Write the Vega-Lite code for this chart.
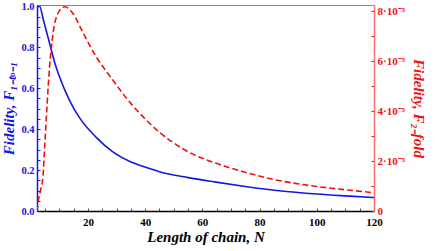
{
  "$schema": "https://vega.github.io/schema/vega-lite/v6.json",
  "autosize": {"type": "none"},
  "padding": {"left": 37, "top": 5, "right": 64, "bottom": 40},
  "width": 337,
  "height": 206,
  "config": {
    "view": {"stroke": "#888888", "strokeWidth": 1},
    "font": "Liberation Serif",
    "axis": {"grid": false, "labelFont": "Liberation Serif", "titleFont": "Liberation Serif", "labelFontWeight": "bold", "titleFontWeight": "bold", "titleFontStyle": "italic", "labelFontSize": 11, "titleFontSize": 15, "labelOverlap": false}
  },
  "datasets": {
    "blue": [
      {"N": 2.2, "F": 1.0}, {"N": 3.1, "F": 1.0}, {"N": 4.5, "F": 0.93}, {"N": 6.6, "F": 0.82},
      {"N": 8.3, "F": 0.73}, {"N": 10.1, "F": 0.655}, {"N": 13.6, "F": 0.54}, {"N": 17.1, "F": 0.455},
      {"N": 22.9, "F": 0.36}, {"N": 28.6, "F": 0.29}, {"N": 34.5, "F": 0.243}, {"N": 41.5, "F": 0.208},
      {"N": 45, "F": 0.192}, {"N": 55, "F": 0.163}, {"N": 64.8, "F": 0.141}, {"N": 75, "F": 0.12},
      {"N": 86.8, "F": 0.099}, {"N": 100, "F": 0.083}, {"N": 110, "F": 0.074}, {"N": 120, "F": 0.066}
    ],
    "red": [
      {"N": 2.2, "F": 0}, {"N": 2.7, "F": 0.44}, {"N": 3.5, "F": 0.85}, {"N": 4.3, "F": 1.4},
      {"N": 4.9, "F": 2.6}, {"N": 5.7, "F": 4.2}, {"N": 6.6, "F": 5.77}, {"N": 7.8, "F": 7.1},
      {"N": 9.5, "F": 7.9}, {"N": 11.9, "F": 8.17}, {"N": 14.8, "F": 7.9}, {"N": 18.2, "F": 7.15},
      {"N": 22.9, "F": 6.17}, {"N": 28.7, "F": 5.24}, {"N": 34.5, "F": 4.37}, {"N": 40.4, "F": 3.64},
      {"N": 45, "F": 3.15}, {"N": 50, "F": 2.72}, {"N": 55, "F": 2.37}, {"N": 64.8, "F": 1.91},
      {"N": 75, "F": 1.55}, {"N": 83.4, "F": 1.3}, {"N": 100, "F": 0.98}, {"N": 110, "F": 0.85},
      {"N": 120, "F": 0.73}
    ]
  },
  "encoding": {
    "x": {"field": "N", "type": "quantitative", "scale": {"domain": [2.2, 120], "nice": false, "zero": false},
      "axis": {"values": [5,10,15,20,25,30,35,40,45,50,55,60,65,70,75,80,85,90,95,100,105,110,115,120],
        "labelExpr": "datum.value % 20 === 0 ? format(datum.value, 'd') : ''", "labelFlush": false, "tickSize": -3, "labelPadding": 8, "domainColor": "#000000", "domainWidth": 1.5, "tickColor": "#555555", "labelColor": "#000000",
        "title": "Length of chain, N", "titleColor": "#000000", "titlePadding": 2, "labelFontSize": 11}}
  },
  "layer": [
    {
      "data": {"name": "blue"},
      "mark": {"type": "line", "color": "#1515e6", "strokeWidth": 1.6, "interpolate": "monotone", "clip": true},
      "encoding": {
        "y": {"field": "F", "type": "quantitative", "scale": {"domain": [0, 1.007], "nice": false},
          "axis": {"orient": "left", "values": [0,0.05,0.1,0.15,0.2,0.25,0.3,0.35,0.4,0.45,0.5,0.55,0.6,0.65,0.7,0.75,0.8,0.85,0.9,0.95,1.0],
            "labelExpr": "(round(datum.value*100) % 20 == 0) ? format(datum.value, '.1f') : ''", "tickSize": -3, "labelPadding": 6,
            "domainColor": "#1515e6", "domainWidth": 1.5, "tickColor": "#1515e6", "labelColor": "#1515e6", "labelFontSize": 10.5,
            "title": "Fidelity, F₁₋ₜₒ₋₁", "titleColor": "#1515e6", "titlePadding": 4}}
      }
    },
    {
      "data": {"name": "red"},
      "mark": {"type": "line", "color": "#ee1111", "strokeWidth": 1.6, "strokeDash": [6, 3], "interpolate": "monotone", "clip": true},
      "encoding": {
        "y": {"field": "F", "type": "quantitative", "scale": {"domain": [0, 8.24], "nice": false},
          "axis": {"orient": "right", "values": [0,1,2,3,4,5,6,7,8],
            "labelExpr": "datum.value == 0 ? '0' : (datum.value % 2 == 0 ? datum.value + '·10⁻⁵' : '')", "tickSize": -3, "labelPadding": 6,
            "domainColor": "#ff6f6f", "domainWidth": 1.5, "tickColor": "#ee1111", "labelColor": "#ee1111", "labelFontSize": 11,
            "title": "Fidelity, F₂₋fold", "titleColor": "#ee1111", "titlePadding": 6}}
      }
    }
  ],
  "resolve": {"scale": {"y": "independent"}}
}
